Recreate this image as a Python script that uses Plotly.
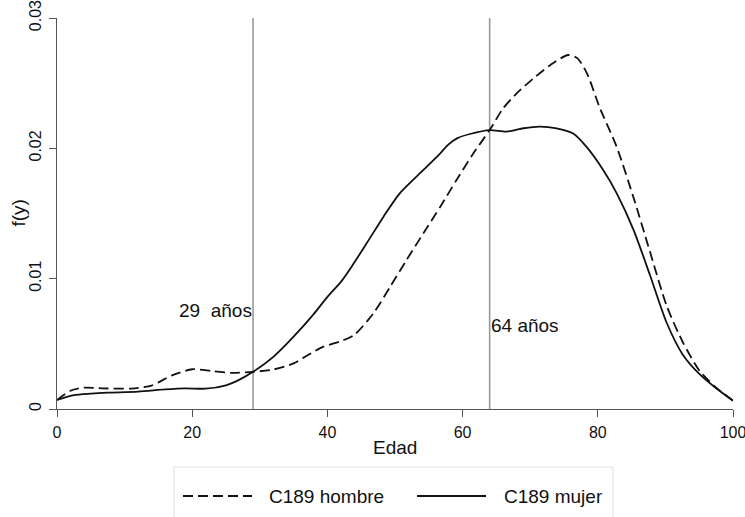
import plotly.graph_objects as go

# ---- data ----
EDAD_HOMBRE = [0, 2, 4, 7, 11, 14, 17, 20, 23, 26, 29, 32, 35, 37, 39.4, 42, 44,
               46.8, 49.3, 51.7, 54.2, 56.7, 59.1, 61.6, 64, 66, 68, 70.5, 73,
               75.6, 77, 78.4, 80.3, 82.8, 85.3, 87.7, 90.2, 92.6, 95.1, 97.6, 100]
F_HOMBRE = [0.00069, 0.00140, 0.00164, 0.00158, 0.00157, 0.00180, 0.00258, 0.00305,
            0.00290, 0.00277, 0.00285, 0.00303, 0.00350, 0.00410, 0.00478, 0.00520,
            0.00570, 0.00734, 0.00939, 0.01143, 0.01348, 0.01552, 0.01757, 0.01962,
            0.02140, 0.02307, 0.02422, 0.02537, 0.02640, 0.02716, 0.02690, 0.02575,
            0.02310, 0.02010, 0.01620, 0.01210, 0.00790, 0.00510, 0.00290, 0.00160,
            0.00064]

EDAD_MUJER = [0, 2.5, 5, 7.5, 12, 16, 19, 22, 25, 27, 29, 32, 35, 38, 40, 42, 43.3,
              45.8, 48.3, 50.7, 54.2, 56.7, 57.8, 59.3, 61.1, 64, 66.5, 69, 71.4, 73.9,
              76.3, 78.3, 80.8, 82.8, 85.3, 87.7, 90.2, 92.6, 95.1, 97.6, 100]
F_MUJER = [0.00069, 0.00107, 0.00118, 0.00125, 0.00133, 0.00150, 0.00158, 0.00156,
           0.00182, 0.00225, 0.00285, 0.00400, 0.00555, 0.00730, 0.00860, 0.00975,
           0.01070, 0.01271, 0.01476, 0.01655, 0.01834, 0.01962, 0.02025, 0.02080,
           0.02110, 0.02140, 0.02128, 0.02154, 0.02167, 0.02154, 0.02115, 0.02013,
           0.01834, 0.01655, 0.01373, 0.01030, 0.00660, 0.00415, 0.00265, 0.00155,
           0.00064]

SERIES_NAMES = ["C189 hombre", "C189 mujer"]
CORTES = [29, 64]
CORTE_LABELS = ["29  años", "64 años"]
CORTE_LABEL_Y = [0.00752, 0.0064]

X_TICKS = [0, 20, 40, 60, 80, 100]
Y_TICKS = [0, 0.01, 0.02, 0.03]
Y_TICK_TEXT = ["0", "0.01", "0.02", "0.03"]
X_TITLE = "Edad"
Y_TITLE = "f(y)"

# ---- layout geometry ----
W, H = 745, 517
ML, MR, MT, MB = 57, 12, 18, 108
PW, PH = W - ML - MR, H - MT - MB
FONT = "Liberation Sans, Arial, Helvetica, sans-serif"
DASH = "10px,5px"


def px_x(px):
    return (px - ML) / PW


def px_y(py):
    return (H - MB - py) / PH


fig = go.Figure()
fig.add_trace(go.Scatter(x=EDAD_HOMBRE, y=F_HOMBRE, mode="lines", name=SERIES_NAMES[0],
                         line=dict(color="#111111", width=1.8, dash=DASH,
                                   shape="spline", smoothing=0.7),
                         showlegend=False))
fig.add_trace(go.Scatter(x=EDAD_MUJER, y=F_MUJER, mode="lines", name=SERIES_NAMES[1],
                         line=dict(color="#111111", width=1.8,
                                   shape="spline", smoothing=0.7),
                         showlegend=False))

shapes = []
for c in CORTES:
    shapes.append(dict(type="line", xref="x", yref="y", x0=c, x1=c, y0=0, y1=Y_TICKS[-1],
                       line=dict(color="#9a9a9a", width=1.6), layer="below"))

# legend box (drawn by hand to match the reference)
shapes.append(dict(type="rect", xref="paper", yref="paper",
                   x0=px_x(174), x1=px_x(613), y0=px_y(520), y1=px_y(467),
                   line=dict(color="#e6e6e6", width=1.2), fillcolor="white"))
ly = px_y(496)
shapes.append(dict(type="line", xref="paper", yref="paper", x0=px_x(183), x1=px_x(252),
                   y0=ly, y1=ly, line=dict(color="#111111", width=1.8, dash=DASH)))
shapes.append(dict(type="line", xref="paper", yref="paper", x0=px_x(417), x1=px_x(486),
                   y0=ly, y1=ly, line=dict(color="#111111", width=1.8)))

annotations = []
annotations.append(dict(x=CORTES[0], y=CORTE_LABEL_Y[0], xref="x", yref="y",
                        text=CORTE_LABELS[0], showarrow=False, xanchor="right",
                        yanchor="middle", xshift=1, font=dict(size=19, color="#111")))
annotations.append(dict(x=CORTES[1], y=CORTE_LABEL_Y[1], xref="x", yref="y",
                        text=CORTE_LABELS[1], showarrow=False, xanchor="left",
                        yanchor="middle", xshift=-1, font=dict(size=19, color="#111")))
annotations.append(dict(x=0.5, y=0, xref="paper", yref="paper", text=X_TITLE,
                        showarrow=False, xanchor="center", yanchor="middle",
                        yshift=-38, font=dict(size=19, color="#111")))
annotations.append(dict(x=0, y=0.5, xref="paper", yref="paper", text=Y_TITLE,
                        showarrow=False, xanchor="center", yanchor="middle",
                        xshift=-39, textangle=-90, font=dict(size=19, color="#111")))
annotations.append(dict(x=px_x(267), y=ly, xref="paper", yref="paper",
                        text=SERIES_NAMES[0], showarrow=False, xanchor="left",
                        yanchor="middle", font=dict(size=19, color="#111")))
annotations.append(dict(x=px_x(502), y=ly, xref="paper", yref="paper",
                        text=SERIES_NAMES[1], showarrow=False, xanchor="left",
                        yanchor="middle", font=dict(size=19, color="#111")))

fig.update_layout(
    width=W, height=H,
    margin=dict(l=ML, r=MR, t=MT, b=MB, pad=0, autoexpand=False),
    paper_bgcolor="white", plot_bgcolor="white",
    font=dict(family=FONT, color="#111"),
    shapes=shapes, annotations=annotations,
    showlegend=False,
)
fig.update_xaxes(range=[0, 100], tickvals=X_TICKS, ticks="outside", ticklen=7,
                 tickcolor="#555", tickwidth=1.2, showline=True, linecolor="#555",
                 linewidth=1.2, showgrid=False, zeroline=False, automargin=False,
                 tickfont=dict(size=16, color="#111"), ticklabelstandoff=2,
                 ticklabeloverflow="allow")
fig.update_yaxes(range=[0, 0.03], tickvals=Y_TICKS, ticktext=Y_TICK_TEXT,
                 ticks="outside", ticklen=7, tickcolor="#555", tickwidth=1.2,
                 showline=True, linecolor="#555", linewidth=1.2, showgrid=False,
                 zeroline=False, tickangle=-90, automargin=False,
                 tickfont=dict(size=16, color="#111"), ticklabelstandoff=2,
                 ticklabeloverflow="allow")

fig.write_html("out.html")
